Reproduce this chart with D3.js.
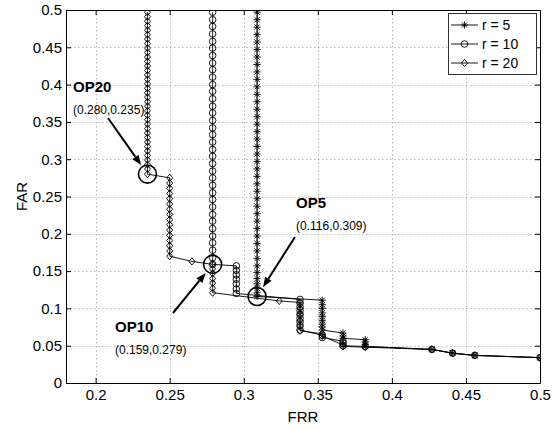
<!DOCTYPE html>
<html>
<head>
<meta charset="utf-8">
<script src="https://cdn.jsdelivr.net/npm/d3@7/dist/d3.min.js"></script>
<style>
  html, body { margin: 0; padding: 0; background: #fff; }
  svg { display: block; font-family: "Liberation Sans", Arial, Helvetica, sans-serif; }
</style>
</head>
<body>
<svg id="chart" width="552" height="430"></svg>
<script>
// Axis ticks
const xTicks = [0.2, 0.25, 0.3, 0.35, 0.4, 0.45, 0.5];
const yTicks = [0, 0.05, 0.1, 0.15, 0.2, 0.25, 0.3, 0.35, 0.4, 0.45, 0.5];

// Each series is a list of runs: [FRR, [FAR values at that FRR]]
const runsR5 = [
  [0.309, [0.497, 0.487, 0.477, 0.467, 0.457, 0.447, 0.437, 0.427, 0.417, 0.407,
           0.397, 0.387, 0.377, 0.367, 0.357, 0.347, 0.337, 0.327, 0.317, 0.307,
           0.297, 0.287, 0.277, 0.267, 0.257, 0.247, 0.237, 0.227, 0.217, 0.207,
           0.197, 0.187, 0.177, 0.167, 0.157, 0.148, 0.140, 0.133, 0.127, 0.121, 0.116]],
  [0.353, [0.111, 0.105, 0.100, 0.094, 0.089, 0.084, 0.079, 0.075, 0.071]],
  [0.367, [0.067, 0.063, 0.060]],
  [0.382, [0.058, 0.055, 0.052, 0.049]],
  [0.427, [0.045]],
  [0.441, [0.040]],
  [0.456, [0.037]],
  [0.500, [0.034]]
];

const runsR10 = [
  [0.279, [0.497, 0.487, 0.478, 0.468, 0.458, 0.449, 0.439, 0.429, 0.420, 0.410,
           0.400, 0.391, 0.381, 0.371, 0.362, 0.352, 0.342, 0.333, 0.323, 0.313,
           0.304, 0.294, 0.284, 0.275, 0.265, 0.255, 0.246, 0.236, 0.226, 0.217,
           0.207, 0.197, 0.188, 0.178, 0.168, 0.159]],
  [0.295, [0.157, 0.151, 0.145, 0.139, 0.133, 0.126, 0.120]],
  [0.338, [0.112, 0.107, 0.102, 0.097, 0.092, 0.087, 0.082, 0.077, 0.071]],
  [0.353, [0.064, 0.061]],
  [0.367, [0.056, 0.053, 0.050]],
  [0.382, [0.049]],
  [0.427, [0.045]],
  [0.441, [0.040]],
  [0.456, [0.037]],
  [0.500, [0.034]]
];

const runsR20 = [
  [0.235, [0.497, 0.491, 0.485, 0.479, 0.473, 0.467, 0.461, 0.455, 0.449, 0.443,
           0.437, 0.431, 0.425, 0.419, 0.413, 0.407, 0.401, 0.395, 0.389, 0.383,
           0.377, 0.371, 0.365, 0.359, 0.353, 0.347, 0.341, 0.335, 0.329, 0.323,
           0.317, 0.311, 0.305, 0.299, 0.293, 0.287, 0.280]],
  [0.250, [0.275, 0.268, 0.261, 0.254, 0.247, 0.240, 0.233, 0.226, 0.219, 0.212,
           0.205, 0.198, 0.191, 0.184, 0.177, 0.170]],
  [0.265, [0.163]],
  [0.279, [0.159, 0.153, 0.147, 0.140, 0.134, 0.127, 0.121]],
  [0.324, [0.110]],
  [0.338, [0.108, 0.100, 0.092, 0.084, 0.076, 0.070]],
  [0.353, [0.066, 0.063]],
  [0.367, [0.051, 0.049]],
  [0.382, [0.048]],
  [0.427, [0.045]],
  [0.441, [0.040]],
  [0.456, [0.037]],
  [0.500, [0.034]]
];

const seriesNames = ["r = 5", "r = 10", "r = 20"];
const seriesMarkers = ["asterisk", "circle", "diamond"];

// Operating points: FRR, FAR
const opNames = ["OP20", "OP10", "OP5"];
const opFRR = [0.235, 0.279, 0.309];
const opFAR = [0.280, 0.159, 0.116];

// ---------------------------------------------------------------
const svg = d3.select("#chart");
const L = 66, R = 540, T = 10, B = 383;
const x = d3.scaleLinear().domain([0.18, 0.5]).range([L, R]);
const y = d3.scaleLinear().domain([0, 0.5]).range([B, T]);
const fmt = d3.format("~g");

svg.append("defs").append("clipPath").attr("id", "plotClip")
  .append("rect").attr("x", L).attr("y", T).attr("width", R - L).attr("height", B - T);

// Dotted grid
const grid = svg.append("g").attr("stroke", "#b8b8b8").attr("stroke-width", 1)
  .attr("stroke-dasharray", "1.5,2.5");
grid.selectAll("line.gx").data(xTicks.filter(v => v < 0.5)).join("line")
  .attr("x1", d => Math.round(x(d)) + 0.5).attr("x2", d => Math.round(x(d)) + 0.5)
  .attr("y1", T).attr("y2", B);
grid.selectAll("line.gy").data(yTicks.filter(v => v > 0 && v < 0.5)).join("line")
  .attr("class", "gy")
  .attr("y1", d => Math.round(y(d)) + 0.5).attr("y2", d => Math.round(y(d)) + 0.5)
  .attr("x1", L).attr("x2", R);

// Axes with inward ticks on all four sides
function styleAxis(g) {
  g.selectAll("path.domain").attr("stroke", "#000").attr("stroke-width", 1);
  g.selectAll(".tick line").attr("stroke", "#000").attr("stroke-width", 1);
  g.selectAll(".tick text").attr("fill", "#000").attr("font-size", 15)
    .attr("font-family", "\"Liberation Sans\", Arial, sans-serif");
}
svg.append("g").attr("transform", `translate(0,${B})`)
  .call(d3.axisBottom(x).tickValues(xTicks).tickFormat(fmt).tickSizeInner(-5).tickSizeOuter(0).tickPadding(6))
  .call(styleAxis);
svg.append("g").attr("transform", `translate(0,${T})`)
  .call(d3.axisTop(x).tickValues(xTicks).tickFormat("").tickSizeInner(-5).tickSizeOuter(0))
  .call(styleAxis);
svg.append("g").attr("transform", `translate(${L},0)`)
  .call(d3.axisLeft(y).tickValues(yTicks).tickFormat(fmt).tickSizeInner(-5).tickSizeOuter(0).tickPadding(4))
  .call(styleAxis);
svg.append("g").attr("transform", `translate(${R},0)`)
  .call(d3.axisRight(y).tickValues(yTicks).tickFormat("").tickSizeInner(-5).tickSizeOuter(0))
  .call(styleAxis);

// Axis titles
svg.append("text").attr("x", (L + R) / 2).attr("y", 422).attr("text-anchor", "middle")
  .attr("font-size", 15).text("FRR");
svg.append("text").attr("transform", `translate(27,${(T + B) / 2}) rotate(-90)`)
  .attr("text-anchor", "middle").attr("font-size", 15).text("FAR");

// Marker shapes
function markerPath(type) {
  if (type === "asterisk") {
    const s = 3.6, k = 2.6;
    return `M${-s},0H${s}M0,${-s}V${s}M${-k},${-k}L${k},${k}M${-k},${k}L${k},${-k}`;
  }
  if (type === "diamond") return "M0,-3.6L3,0L0,3.6L-3,0Z";
  return d3.symbol(d3.symbolCircle, Math.PI * 3.3 * 3.3)();
}

function flatten(runs) {
  const pts = [];
  runs.forEach(([frr, fars]) => fars.forEach(far => pts.push([frr, far])));
  return pts;
}

const line = d3.line().x(d => x(d[0])).y(d => y(d[1]));
const plot = svg.append("g").attr("clip-path", "url(#plotClip)");

[runsR5, runsR10, runsR20].forEach((runs, i) => {
  const pts = flatten(runs);
  plot.append("path").datum(pts).attr("d", line)
    .attr("fill", "none").attr("stroke", "#000").attr("stroke-width", 0.9);
  plot.append("g").selectAll("path").data(pts).join("path")
    .attr("transform", d => `translate(${x(d[0])},${y(d[1])})`)
    .attr("d", markerPath(seriesMarkers[i]))
    .attr("fill", "none").attr("stroke", "#000").attr("stroke-width", 0.9);
});

// Operating point circles, labels and arrows
const opTextPos = [[73, 92], [115, 332], [296, 208]];
const opArrowTail = [[108, 118], [173, 313], [295, 237]];
const ann = svg.append("g");
opNames.forEach((name, i) => {
  const cx = x(opFRR[i]), cy = y(opFAR[i]);
  ann.append("circle").attr("cx", cx).attr("cy", cy).attr("r", 9)
    .attr("fill", "none").attr("stroke", "#000").attr("stroke-width", 1.6);
  const [tx, ty] = opTextPos[i];
  ann.append("text").attr("x", tx).attr("y", ty).attr("font-size", 15)
    .attr("font-weight", "bold").text(name);
  ann.append("text").attr("x", tx).attr("y", ty + 22).attr("font-size", 12)
    .text(`(${opFAR[i].toFixed(3)},${opFRR[i].toFixed(3)})`);
  // Arrow from label toward the circle edge
  const [ax, ay] = opArrowTail[i];
  const dx = cx - ax, dy = cy - ay, len = Math.hypot(dx, dy);
  const ux = dx / len, uy = dy / len;
  const tipX = cx - ux * 11, tipY = cy - uy * 11;
  const headLen = 10, headW = 3.8;
  const bx = tipX - ux * headLen, by = tipY - uy * headLen;
  ann.append("line").attr("x1", ax).attr("y1", ay).attr("x2", bx).attr("y2", by)
    .attr("stroke", "#000").attr("stroke-width", 2);
  ann.append("path")
    .attr("d", `M${tipX},${tipY}L${bx - uy * headW},${by + ux * headW}L${bx + uy * headW},${by - ux * headW}Z`)
    .attr("fill", "#000");
});

// Legend
const lg = svg.append("g");
lg.append("rect").attr("x", 448.5).attr("y", 13.5).attr("width", 88).attr("height", 61)
  .attr("fill", "#fff").attr("stroke", "#333").attr("stroke-width", 1);
seriesNames.forEach((name, i) => {
  const ly = 25 + i * 19;
  lg.append("line").attr("x1", 451).attr("x2", 478).attr("y1", ly).attr("y2", ly)
    .attr("stroke", "#000").attr("stroke-width", 0.9);
  lg.append("path").attr("transform", `translate(464.5,${ly})`).attr("d", markerPath(seriesMarkers[i]))
    .attr("fill", "none").attr("stroke", "#000").attr("stroke-width", 0.9);
  lg.append("text").attr("x", 482).attr("y", ly + 5).attr("font-size", 14).text(name);
});
</script>
</body>
</html>
